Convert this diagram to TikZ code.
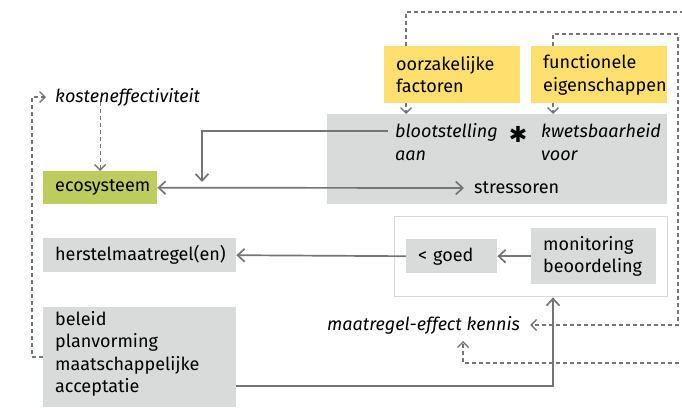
\documentclass[tikz,border=0pt]{standalone}
\usepackage{fontspec}
\setmainfont{Fira Sans}
\newfontfamily\symfont{DejaVu Sans}
\usetikzlibrary{arrows.meta}
\definecolor{panelgrey}{HTML}{D9DADA}
\definecolor{causeyellow}{HTML}{FFE06E}
\definecolor{ecogreen}{HTML}{BDCB5F}
\definecolor{linegrey}{HTML}{757575}
\definecolor{framegrey}{HTML}{D8D8D8}
\tikzset{
  barb/.tip={Straight Barb[length=7pt,width=13pt]},
  smallbarb/.tip={Straight Barb[length=5.5pt,width=11pt]},
  panel/.style={fill=panelgrey, anchor=north west, inner xsep=12pt, inner ysep=0pt, align=left},
  label/.style={inner sep=0pt, anchor=west, align=left},
  flow/.style={draw=linegrey, line width=1.7pt, -barb},
  hint/.style={draw=linegrey, line width=1.4pt, dash pattern=on 4pt off 3pt, -smallbarb},
}
\begin{document}
\begin{tikzpicture}[x=1pt,y=-1pt,font=\fontsize{18}{22.5}\selectfont]
\useasboundingbox (0,0) rectangle (682,407);
\clip (0,0) rectangle (682,407);

% exposure / vulnerability panel
\node[panel, minimum width=340pt, minimum height=90pt, text width=316pt] (expo) at (327,114) {};
\node[label] (bloot) at (395,142) {\itshape blootstelling\\\itshape aan};
\node[inner sep=0pt] (star) at (518,134) {\symfont\fontsize{22}{22}\selectfont\bfseries ✱};
\node[label] (kwets) at (541,142) {\itshape kwetsbaarheid\\\itshape voor};
\node[label] (stress) at (474,188) {stressoren};

% causes and properties
\node[panel, fill=causeyellow, minimum width=136pt, minimum height=57pt, text width=112pt] (oorz) at (384,46) {oorzakelijke\\factoren};
\node[panel, fill=causeyellow, minimum width=136pt, minimum height=57pt, text width=112pt] (func) at (531,46) {functionele\\eigenschappen};

% ecosystem and cost effectiveness
\node[label] (kost) at (55,97) {\itshape kosteneffectiviteit};
\node[panel, fill=ecogreen, minimum width=114pt, minimum height=33pt, text width=90pt] (eco) at (43,171) {ecosysteem};

% assessment frame
\node[draw=framegrey, line width=1.4pt, minimum width=273pt, minimum height=80pt, anchor=north west, inner sep=0pt] (frame) at (394,216) {};
\node[panel, minimum width=91pt, minimum height=34pt, text width=67pt] (goed) at (406,239) {< goed};
\node[panel, minimum width=125pt, minimum height=56pt, text width=101pt] (moni) at (531,228) {monitoring\\beoordeling};

% measures and policy
\node[panel, minimum width=193pt, minimum height=34pt, text width=169pt] (herstel) at (43,238) {herstelmaatregel(en)};
\node[panel, minimum width=193pt, minimum height=100pt, text width=169pt] (beleid) at (43,307) {};
\node[label, anchor=north west] (beleidtxt) at (55,311) {beleid\\planvorming\\maatschappelijke\\acceptatie};
\node[label] (kennis) at (327,325) {\itshape maatregel-effect kennis};

% connectors
\coordinate (bend) at (202,131);
\coordinate (drop) at (202,182);
\draw[flow] ([xshift=-7pt]bloot.west |- 0,131) -- (bend) -- (drop);
\draw[flow, barb-barb] (eco.east) -- ([xshift=-10pt]stress.west);
\draw[flow] (moni.west) -- (goed.east);
\draw[flow] (goed.west) -- (herstel.east);
\coordinate (policyout) at (236,386);
\coordinate (policyup) at (553,386);
\draw[flow] (policyout) -- (policyup) -- (frame.south -| policyup);

\draw[hint] ([yshift=4pt]kost.south -| eco.north) -- (eco.north);
\draw[hint] (oorz.south -| 406,0) -- (expo.north -| 406,0);
\draw[hint] (func.south -| 553,0) -- (expo.north -| 553,0);
\draw[hint] (beleid.west |- 0,357) -- (32,357) -- (32,97) -- ([xshift=-9pt]kost.west);

\coordinate (fturn) at (553,34);
\coordinate (fcorner) at (678,34);
\coordinate (fdown) at (678,325);
\draw[hint] (func.north -| fturn) -- (fturn) -- (fcorner) -- (fdown) -- ([xshift=10pt]kennis.east);

\coordinate (oturn) at (406,12);
\coordinate (oright) at (700,12);
\coordinate (oback) at (700,363);
\coordinate (oleft) at (463,363);
\draw[hint] (oorz.north -| oturn) -- (oturn) -- (oright) -- (oback) -- (oleft) -- (463,341);
\end{tikzpicture}
\end{document}
